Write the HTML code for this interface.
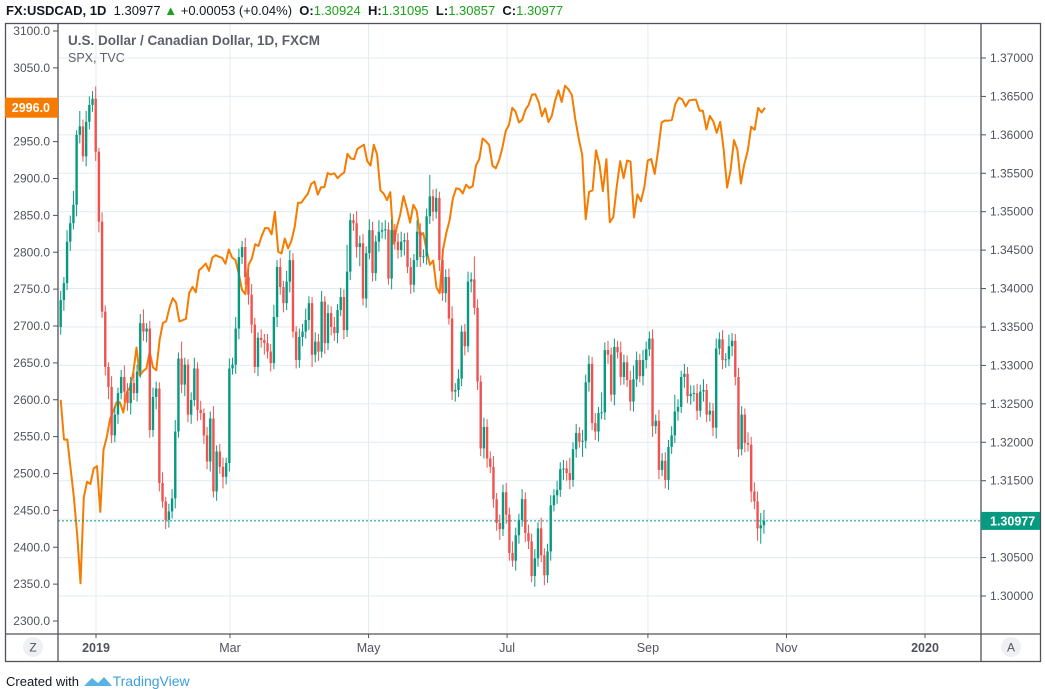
<!DOCTYPE html>
<html><head><meta charset="utf-8">
<style>
html,body{margin:0;padding:0;background:#fff;width:1045px;height:689px;overflow:hidden}
body{font-family:"Liberation Sans",sans-serif;position:relative}
#hdr{position:absolute;left:6px;top:3px;font-size:13px;color:#131722;white-space:nowrap}
#hdr b{font-weight:bold}
#hdr .g{color:#1aa31a}
#foot{position:absolute;left:6px;top:672px;font-size:13px;color:#131722}
#foot span.tv{color:#3ba0dd;font-size:14px}
svg{position:absolute;left:0;top:0}
</style></head>
<body>
<div id="hdr"><b>FX:USDCAD, 1D</b>&nbsp; 1.30977 <span class="g">▲</span> +0.00053 (+0.04%) &nbsp;<b>O:</b><span class="g">1.30924</span> &nbsp;<b>H:</b><span class="g">1.31095</span> &nbsp;<b>L:</b><span class="g">1.30857</span> &nbsp;<b>C:</b><span class="g">1.30977</span></div>
<svg id="chart" width="1045" height="689"></svg>
<div id="foot">Created with <svg width="30" height="14" style="position:relative;top:2px;left:0"><path d="M1 12 L9 4 L15 9 L21 3 L29 12 Z" fill="#55b3e6"/></svg><span class="tv">TradingView</span></div>
<script>
const closes=[1.3385,1.3407,1.3461,1.3485,1.3509,1.3600,1.3611,1.3572,1.3617,1.3639,1.3647,1.3578,1.3487,1.3370,1.3298,1.3272,1.3209,1.3236,1.3264,1.3285,
1.3266,1.3251,1.3277,1.3264,1.3292,1.3355,1.3344,1.3348,1.3216,1.3259,1.3270,1.3147,1.3123,1.3099,1.3110,1.3127,1.3214,1.3309,1.3275,1.3301,
1.3236,1.3255,1.3296,1.3242,1.3238,1.3209,1.3175,1.3231,1.3136,1.3188,1.3168,1.3155,1.3173,1.3296,1.3301,1.3348,1.3441,1.3454,1.3415,1.3392,
1.3353,1.3298,1.3336,1.3333,1.3329,1.3318,1.3303,1.3363,1.3428,1.3402,1.3381,1.3409,1.3437,1.3344,1.3307,1.3337,1.3344,1.3359,1.3381,1.3314,
1.3331,1.3318,1.3383,1.3329,1.3368,1.3350,1.3342,1.3372,1.3389,1.3346,1.3422,1.3489,1.3485,1.3454,1.3459,1.3387,1.3446,1.3476,1.3420,1.3461,
1.3474,1.3476,1.3477,1.3413,1.3476,1.3461,1.3450,1.3461,1.3463,1.3428,1.3405,1.3437,1.3474,1.3441,1.3442,1.3494,1.3520,1.3500,1.3518,1.3437,
1.3394,1.3415,1.3361,1.3266,1.3268,1.3283,1.3344,1.3325,1.3409,1.3412,1.3375,1.3279,1.3192,1.3220,1.3179,1.3168,1.3126,1.3095,1.3087,1.3135,
1.3106,1.3056,1.3046,1.3079,1.3099,1.3126,1.3082,1.3071,1.3026,1.3049,1.3088,1.3053,1.3027,1.3058,1.3118,1.3131,1.3138,1.3165,1.3166,1.3160,
1.3151,1.3191,1.3212,1.3201,1.3202,1.3278,1.3302,1.3225,1.3214,1.3238,1.3239,1.3320,1.3314,1.3262,1.3324,1.3317,1.3285,1.3304,1.3281,1.3253,
1.3282,1.3307,1.3286,1.3307,1.3321,1.3335,1.3221,1.3228,1.3164,1.3176,1.3151,1.3194,1.3209,1.3240,1.3246,1.3285,1.3289,1.3260,1.3263,1.3264,
1.3241,1.3266,1.3268,1.3236,1.3241,1.3219,1.3322,1.3334,1.3307,1.3308,1.3325,1.3332,1.3285,1.3191,1.3236,1.3199,1.3197,1.3136,1.3123,1.3088,
1.3092,1.3098];
const firstOpen=1.3350;
const upWickPips=[12,8,15,10,18,6,20,9,14,11,10,16,5,12,8,6,14,10,7,9,
15,11,8,13,9,12,18,7,10,12,9,8,14,6,10,12,15,8,22,9,
7,10,14,8,12,6,11,9,16,8,10,12,7,13,9,15,11,8,12,10,
14,9,7,11,8,12,10,16,9,12,8,14,13,9,7,11,10,15,9,8,
12,10,14,7,11,9,13,8,12,10,35,9,8,16,10,12,9,14,11,8,
15,10,12,9,14,8,11,13,9,10,12,8,15,11,9,10,28,9,12,8,
14,10,11,16,9,12,8,10,13,9,30,11,8,12,10,9,14,8,11,10,
12,9,15,10,8,13,9,11,10,12,8,14,9,10,13,8,12,9,11,10,
20,9,12,8,14,10,11,9,13,8,26,10,12,9,11,8,14,10,9,12,
18,11,8,13,10,9,12,8,14,10,11,9,12,22,10,8,13,9,11,10,
12,9,14,8,11,10,13,9,12,8,15,10,9,12,11,8,14,10,12,13,
16,14];
const downWickPips=[10,14,9,12,8,15,11,7,13,10,9,12,14,8,11,16,10,9,12,8,
13,10,15,9,11,8,12,14,10,9,16,11,8,12,10,9,13,8,11,15,
10,12,8,14,9,11,10,13,8,12,9,15,10,11,8,12,14,9,10,13,
11,8,12,10,15,9,11,8,13,10,12,9,14,8,11,10,12,9,13,16,
10,12,8,14,9,11,10,13,8,12,9,11,10,14,25,9,12,8,11,10,
13,9,12,8,14,10,11,9,18,8,12,10,9,13,8,11,10,12,9,14,
10,12,8,11,13,9,10,12,8,14,9,11,10,13,12,8,11,10,14,9,
12,10,8,13,11,9,12,10,8,14,11,9,13,10,12,8,11,9,14,10,
12,9,11,8,20,10,12,9,11,13,8,10,12,9,14,8,11,10,9,12,
13,10,8,12,11,9,14,10,12,8,11,13,9,10,12,8,14,9,11,10,
12,8,13,10,9,11,14,8,12,10,9,13,11,10,8,12,9,14,10,16,
20,11];
const spx=[2599.95,2545.94,2546.16,2506.96,2467.42,2416.62,2351.10,2467.70,2488.83,2485.74,2506.85,
2510.03,2447.89,2531.94,2549.69,2574.41,2584.96,2596.64,2596.26,2582.61,2610.30,2616.10,2635.96,2670.71,2632.90,2638.70,2642.33,2664.76,2643.85,2640.00,2681.05,2704.10,
2706.53,2724.87,2737.70,2731.61,2706.05,2707.88,2709.80,2744.73,2753.03,2745.73,2775.60,2779.76,2784.70,2774.88,2792.67,2796.11,2793.90,2792.38,2784.49,
2803.69,2792.81,2789.65,2771.45,2748.93,2743.07,2783.30,2791.52,2810.92,2808.48,2822.48,2832.94,2832.57,2824.23,2854.88,2800.71,2798.36,2818.46,2805.37,2815.44,2834.40,
2867.19,2867.24,2873.40,2879.39,2892.74,2895.77,2878.20,2888.21,2888.32,2907.41,2905.58,2907.06,2900.45,2905.03,2907.97,2933.68,2927.25,2926.17,2939.88,2943.03,2945.83,
2923.73,2917.52,2945.64,2932.47,2884.05,2879.42,2870.72,2881.40,2811.87,2834.41,2850.96,2876.32,2859.53,2840.23,2864.36,2856.27,2822.24,2826.06,2802.39,2783.02,2788.86,2752.06,
2744.45,2803.27,2826.15,2843.49,2873.34,2886.73,2885.72,2879.84,2891.64,2886.98,2889.67,2917.75,2926.46,2954.18,2950.46,2945.35,2917.38,2913.78,2924.92,2941.76,
2964.33,2973.01,2995.82,2990.41,2975.95,2979.63,2993.07,2999.91,3013.77,3014.30,3004.04,2984.42,2995.11,2976.61,2985.03,3005.47,3019.56,3003.67,3025.86,3020.97,3013.18,2980.38,
2953.56,2932.05,2844.74,2881.77,2883.98,2938.09,2918.65,2882.70,2926.32,2840.60,2847.60,2888.68,2923.65,2900.51,2924.43,2922.95,2847.11,2878.38,2869.16,2887.94,2924.58,2926.46,
2906.27,2937.78,2976.00,2978.71,2978.43,2979.39,3000.93,3009.57,3007.39,2997.96,3005.70,3006.73,3006.79,2992.07,2991.78,2966.60,2984.87,2977.62,2961.79,2976.74,
2940.25,2887.61,2910.63,2952.01,2938.79,2893.06,2919.40,2938.13,2970.27,2966.15,2995.68,2989.69,2996.00];
const rightTicks=[1.300,1.305,1.310,1.315,1.320,1.325,1.330,1.335,1.340,1.345,1.350,1.355,1.360,1.365,1.370];
const leftTicks=[2300,2350,2400,2450,2500,2550,2600,2650,2700,2750,2800,2850,2900,2950,3000,3050,3100];
const timeLabels=["2019","Mar","May","Jul","Sep","Nov","2020"];
const timeDays=[0,59,120,181,243,304,365];
const timeBold=[true,false,false,false,false,false,true];
const lastPrice=1.30977, lastSpx=2996.0;

const NS="http://www.w3.org/2000/svg";
const svg=document.getElementById('chart');
const PL=58,PR=981,PT=23,PB=634;
function yR(p){return 596-(p-1.30)/0.005*38.43;}
function yL(v){return 31+(3100-v)*0.7375;}
function xBar(i){return 60.7+i*3.182;}
function xDay(d){return 96+d*(925-96)/365;}
function xSpx(j){const n=spx.length-1;const k=Math.round(n*152/210);
  return j<=k?60.7+j*(565-60.7)/k:565+(j-k)*(765-565)/(n-k);}
function mk(tag,attrs,parent){const e=document.createElementNS(NS,tag);for(const k in attrs)e.setAttribute(k,attrs[k]);(parent||svg).appendChild(e);return e;}

const grid=mk('g',{});


rightTicks.forEach(t=>{const y=yR(t);mk('line',{x1:PL,x2:PR,y1:y,y2:y,stroke:'#e1ecf2','stroke-width':1},grid);});
timeDays.forEach(d=>{const x=xDay(d);mk('line',{x1:x,x2:x,y1:PT,y2:PB,stroke:'#e1ecf2','stroke-width':1},grid);});

const defs=mk('defs',{});
const cp=mk('clipPath',{id:'plotclip'},defs);
mk('rect',{x:PL,y:PT,width:PR-PL,height:PB-PT},cp);

let d='';
spx.forEach((v,j)=>{d+=(j?'L':'M')+xSpx(j).toFixed(1)+' '+yL(v).toFixed(1);});
const spxLine=mk('path',{d:d,fill:'none',stroke:'#f57c00','stroke-width':2,'stroke-linejoin':'round','clip-path':'url(#plotclip)'});



const cg=mk('g',{'clip-path':'url(#plotclip)'});


closes.forEach((c,i)=>{
  const o=i?closes[i-1]:firstOpen;
  const hi=Math.max(o,c)+upWickPips[i]*0.0001, lo=Math.min(o,c)-downWickPips[i]*0.0001;
  const up=c>=o;
  const x=xBar(i);
  const g=mk('g',{},cg);
  
  
  mk('line',{x1:x,x2:x,y1:yR(hi),y2:yR(lo),stroke:up?'#089981':'#ef5350','stroke-width':1},g);
  const yt=yR(Math.max(o,c)),yb=yR(Math.min(o,c));
  mk('rect',{x:x-1.2,y:yt,width:2.4,height:Math.max(1,yb-yt),fill:up?'#089981':'#ef5350'},g);
});

const lp=mk('line',{x1:PL,x2:PR,y1:yR(lastPrice),y2:yR(lastPrice),stroke:'#089981','stroke-width':1,'stroke-dasharray':'2,2'});



const fr=mk('g',{fill:'none',stroke:'#50535e','stroke-width':1.3});


mk('rect',{x:5.5,y:PT+0.5,width:1035,height:661-PT},fr);
mk('line',{x1:PL,x2:PL,y1:PT,y2:661},fr);
mk('line',{x1:PR,x2:PR,y1:PT,y2:661},fr);
mk('line',{x1:5,x2:1041,y1:PB,y2:PB},fr);

const la=mk('g',{});


leftTicks.forEach(t=>{const y=yL(t);
  mk('line',{x1:PL-5,x2:PL,y1:y,y2:y,stroke:'#50535e'},la);
  const tx=mk('text',{x:PL-8,y:y+4,'text-anchor':'end','font-size':12,fill:'#50535e','font-family':'Liberation Sans, sans-serif'},la);
  tx.textContent=t.toFixed(1);
  
  
});
const sb=mk('g',{});


mk('rect',{x:5,y:yL(lastSpx)-10,width:PL-5,height:20,fill:'#f57c00'},sb);
const sbt=mk('text',{x:PL-8,y:yL(lastSpx)+4.5,'text-anchor':'end','font-size':12.5,'font-weight':'bold',fill:'#fff','font-family':'Liberation Sans, sans-serif'},sb);
sbt.textContent=lastSpx.toFixed(1);

const ra=mk('g',{});


rightTicks.forEach(t=>{const y=yR(t);
  mk('line',{x1:PR,x2:PR+5,y1:y,y2:y,stroke:'#50535e'},ra);
  const tx=mk('text',{x:PR+9,y:y+4,'font-size':12,fill:'#50535e','font-family':'Liberation Sans, sans-serif'},ra);
  tx.textContent=t.toFixed(5);
  
  
});
const pb=mk('g',{});


mk('rect',{x:PR,y:yR(lastPrice)-9,width:1040-PR,height:18,fill:'#089981'},pb);
const pbt=mk('text',{x:PR+9,y:yR(lastPrice)+4.5,'font-size':12.5,'font-weight':'bold',fill:'#fff','font-family':'Liberation Sans, sans-serif'},pb);
pbt.textContent=lastPrice.toFixed(5);

const ta=mk('g',{});


timeDays.forEach((dd,k)=>{const x=xDay(dd);
  mk('line',{x1:x,x2:x,y1:PB,y2:PB+4,stroke:'#50535e'},ta);
  const tx=mk('text',{x:x,y:652,'text-anchor':'middle','font-size':12.5,fill:'#50535e','font-weight':timeBold[k]?'bold':'normal','font-family':'Liberation Sans, sans-serif'},ta);
  tx.textContent=timeLabels[k];
  
  
});

const zb=mk('g',{});


mk('circle',{cx:33,cy:647,r:10,fill:'#eef0f3'},zb);
const zt=mk('text',{x:33,y:651.5,'text-anchor':'middle','font-size':12,fill:'#50535e','font-family':'Liberation Sans, sans-serif'},zb);zt.textContent='Z';
const ab=mk('g',{});


mk('circle',{cx:1011,cy:647,r:10,fill:'#eef0f3'},ab);
const at=mk('text',{x:1011,y:651.5,'text-anchor':'middle','font-size':12,fill:'#50535e','font-family':'Liberation Sans, sans-serif'},ab);at.textContent='A';

const lg=mk('text',{x:68,y:45,'font-size':13.5,'font-weight':'bold',fill:'#5d606b','font-family':'Liberation Sans, sans-serif'});
lg.textContent='U.S. Dollar / Canadian Dollar, 1D, FXCM';


const lg2=mk('text',{x:68,y:62,'font-size':12.5,fill:'#5d606b','font-family':'Liberation Sans, sans-serif'});
lg2.textContent='SPX, TVC';


</script>
</body></html>
